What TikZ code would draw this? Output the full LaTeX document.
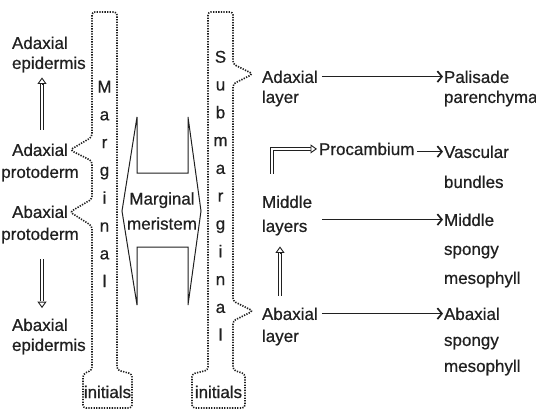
\documentclass[tikz,border=0pt]{standalone}
\usepackage{fontspec}
\setmainfont{Liberation Sans}[FakeBold=0.6]
\usetikzlibrary{arrows.meta,calc}
\definecolor{ink}{HTML}{202020}
\begin{document}
\begin{tikzpicture}[x=1pt,y=-1pt,
  lbl/.style={inner sep=0pt, outer sep=0pt, text=ink, font=\fontsize{17}{20}\selectfont},
  vert/.style={inner sep=0pt, outer sep=0pt, text=ink, align=center, font=\fontsize{17}{27.8}\selectfont},
  dots/.style={draw=ink, line width=1.6pt, dash pattern=on 1.3pt off 1.3pt, rounded corners=3pt},
  arr/.style={draw=ink, line width=1.1pt, -{Straight Barb[length=4.5pt,width=11pt,line width=1.7pt]}},
  hshaft/.style={draw=ink, double=white, double distance=2.4pt, line width=0.9pt},
  hhead/.style={draw=ink, line width=0.9pt, -{Triangle[open,fill=white,length=6.5pt,width=9pt]}},
  meri/.style={draw=ink, line width=1pt, line join=miter}
]
\useasboundingbox[fill=white] (0,0) rectangle (536,410);

% left column labels
\node[lbl, anchor=north west, align=left] (ae) at (12,36.6) {Adaxial\\epidermis};
\node[lbl, anchor=north, align=center] (ap) at (40,143.6) {Adaxial\\[2pt]protoderm};
\node[lbl, anchor=north, align=center] (bp) at (40,205.6) {Abaxial\\[2pt]protoderm};
\node[lbl, anchor=north west, align=left] (be) at (12,318.6) {Abaxial\\epidermis};

% vertical columns
\node[vert, anchor=north] (mg) at (104.5,80.8) {M\\a\\r\\g\\i\\n\\a\\l};
\node[vert, anchor=north] (sm) at (220.5,50.8) {S\\u\\b\\m\\a\\r\\g\\i\\n\\a\\l};
\node[lbl, anchor=base] (in1) at (107.5,398) {initials};
\node[lbl, anchor=base] (in2) at (218.5,398) {initials};

\draw[dots] (92,226) -- (92,370) -- (83,374) -- (83,408) -- (132,408) -- (132,374) -- (117,370)
  -- (117,12) -- (92,12) -- (92,137) -- (70,150) -- (92,161) -- (92,199) -- (70,212) -- cycle;
\draw[dots] (208,12) -- (208,370) -- (192,374) -- (192,408) -- (245,408) -- (245,374) -- (233,370)
  -- (233,321) -- (253,311) -- (233,301) -- (233,84) -- (253,74) -- (233,64) -- (233,12) -- cycle;

% marginal meristem
\draw[meri] (137,117) -- (137,173) -- (188,173) -- (188,117) -- (201,211) -- (188,305) -- (188,247)
  -- (137,247) -- (137,305) -- (122,211) -- cycle;
\node[lbl, align=center] (mm) at (162,211) {Marginal\\[5pt]meristem};

% right labels
\node[lbl, anchor=north west, align=left] (al) at (262,70.6) {Adaxial\\layer};
\node[lbl, anchor=north west, align=left] (ps) at (444,70.6) {Palisade\\parenchyma};
\node[lbl, anchor=base west] (pc) at (319,155) {Procambium};
\node[lbl, anchor=north west, align=left] (vb) at (444,145.6) {Vascular\\[10pt]bundles};
\node[lbl, anchor=north west, align=left] (ml) at (262,195.6) {Middle\\[4pt]layers};
\node[lbl, anchor=north west, align=left] (ms) at (444,213.6) {Middle\\[9pt]spongy\\[9pt]mesophyll};
\node[lbl, anchor=north west, align=left] (bl) at (262,307.6) {Abaxial\\[2pt]layer};
\node[lbl, anchor=north west, align=left] (bs) at (444,307.6) {Abaxial\\[6pt]spongy\\[6pt]mesophyll};

% thin arrows
\coordinate (psT) at ([yshift=-6pt]ps.north west);
\draw[arr] ([xshift=4pt]al.east |- psT) -- ([xshift=-1pt]psT);
\coordinate (vbT) at ([yshift=-6pt]vb.north west);
\draw[arr] ([xshift=3pt]pc.east |- vbT) -- ([xshift=-1pt]vbT);
\coordinate (msT) at ([yshift=-6pt]ms.north west);
\draw[arr] ([xshift=10pt]ml.east |- msT) -- ([xshift=-1pt]msT);
\coordinate (bsT) at ([yshift=-6pt]bs.north west);
\draw[arr] ([xshift=4pt]bl.east |- bsT) -- ([xshift=-1pt]bsT);

% hollow arrows
\coordinate (u1a) at ([xshift=2pt,yshift=14pt]ap.north);
\coordinate (u1b) at (u1a |- ae.south);
\draw[hshaft] (u1a) -- ([yshift=-12pt]u1b);
\draw[hhead] ([yshift=-11.5pt]u1b) -- ([yshift=-5pt]u1b);

\coordinate (d1a) at ([xshift=2pt,yshift=-16pt]bp.south);
\coordinate (d1b) at (d1a |- be.north);
\draw[hshaft] (d1a) -- ([yshift=17.5pt]d1b);
\draw[hhead] ([yshift=17pt]d1b) -- ([yshift=10.5pt]d1b);

\coordinate (u2a) at ([xshift=18pt,yshift=12pt]bl.north west);
\coordinate (u2b) at (u2a |- ml.south);
\draw[hshaft] (u2a) -- ([yshift=-18pt]u2b);
\draw[hhead] ([yshift=-17.5pt]u2b) -- ([yshift=-11pt]u2b);

\coordinate (b1a) at ([xshift=10pt,yshift=22pt]ml.north west);
\draw[hshaft] (b1a) |- ([xshift=-8pt]pc.west);
\draw[hhead] ([xshift=-8.5pt]pc.west) -- ([xshift=-2pt]pc.west);
\end{tikzpicture}
\end{document}
